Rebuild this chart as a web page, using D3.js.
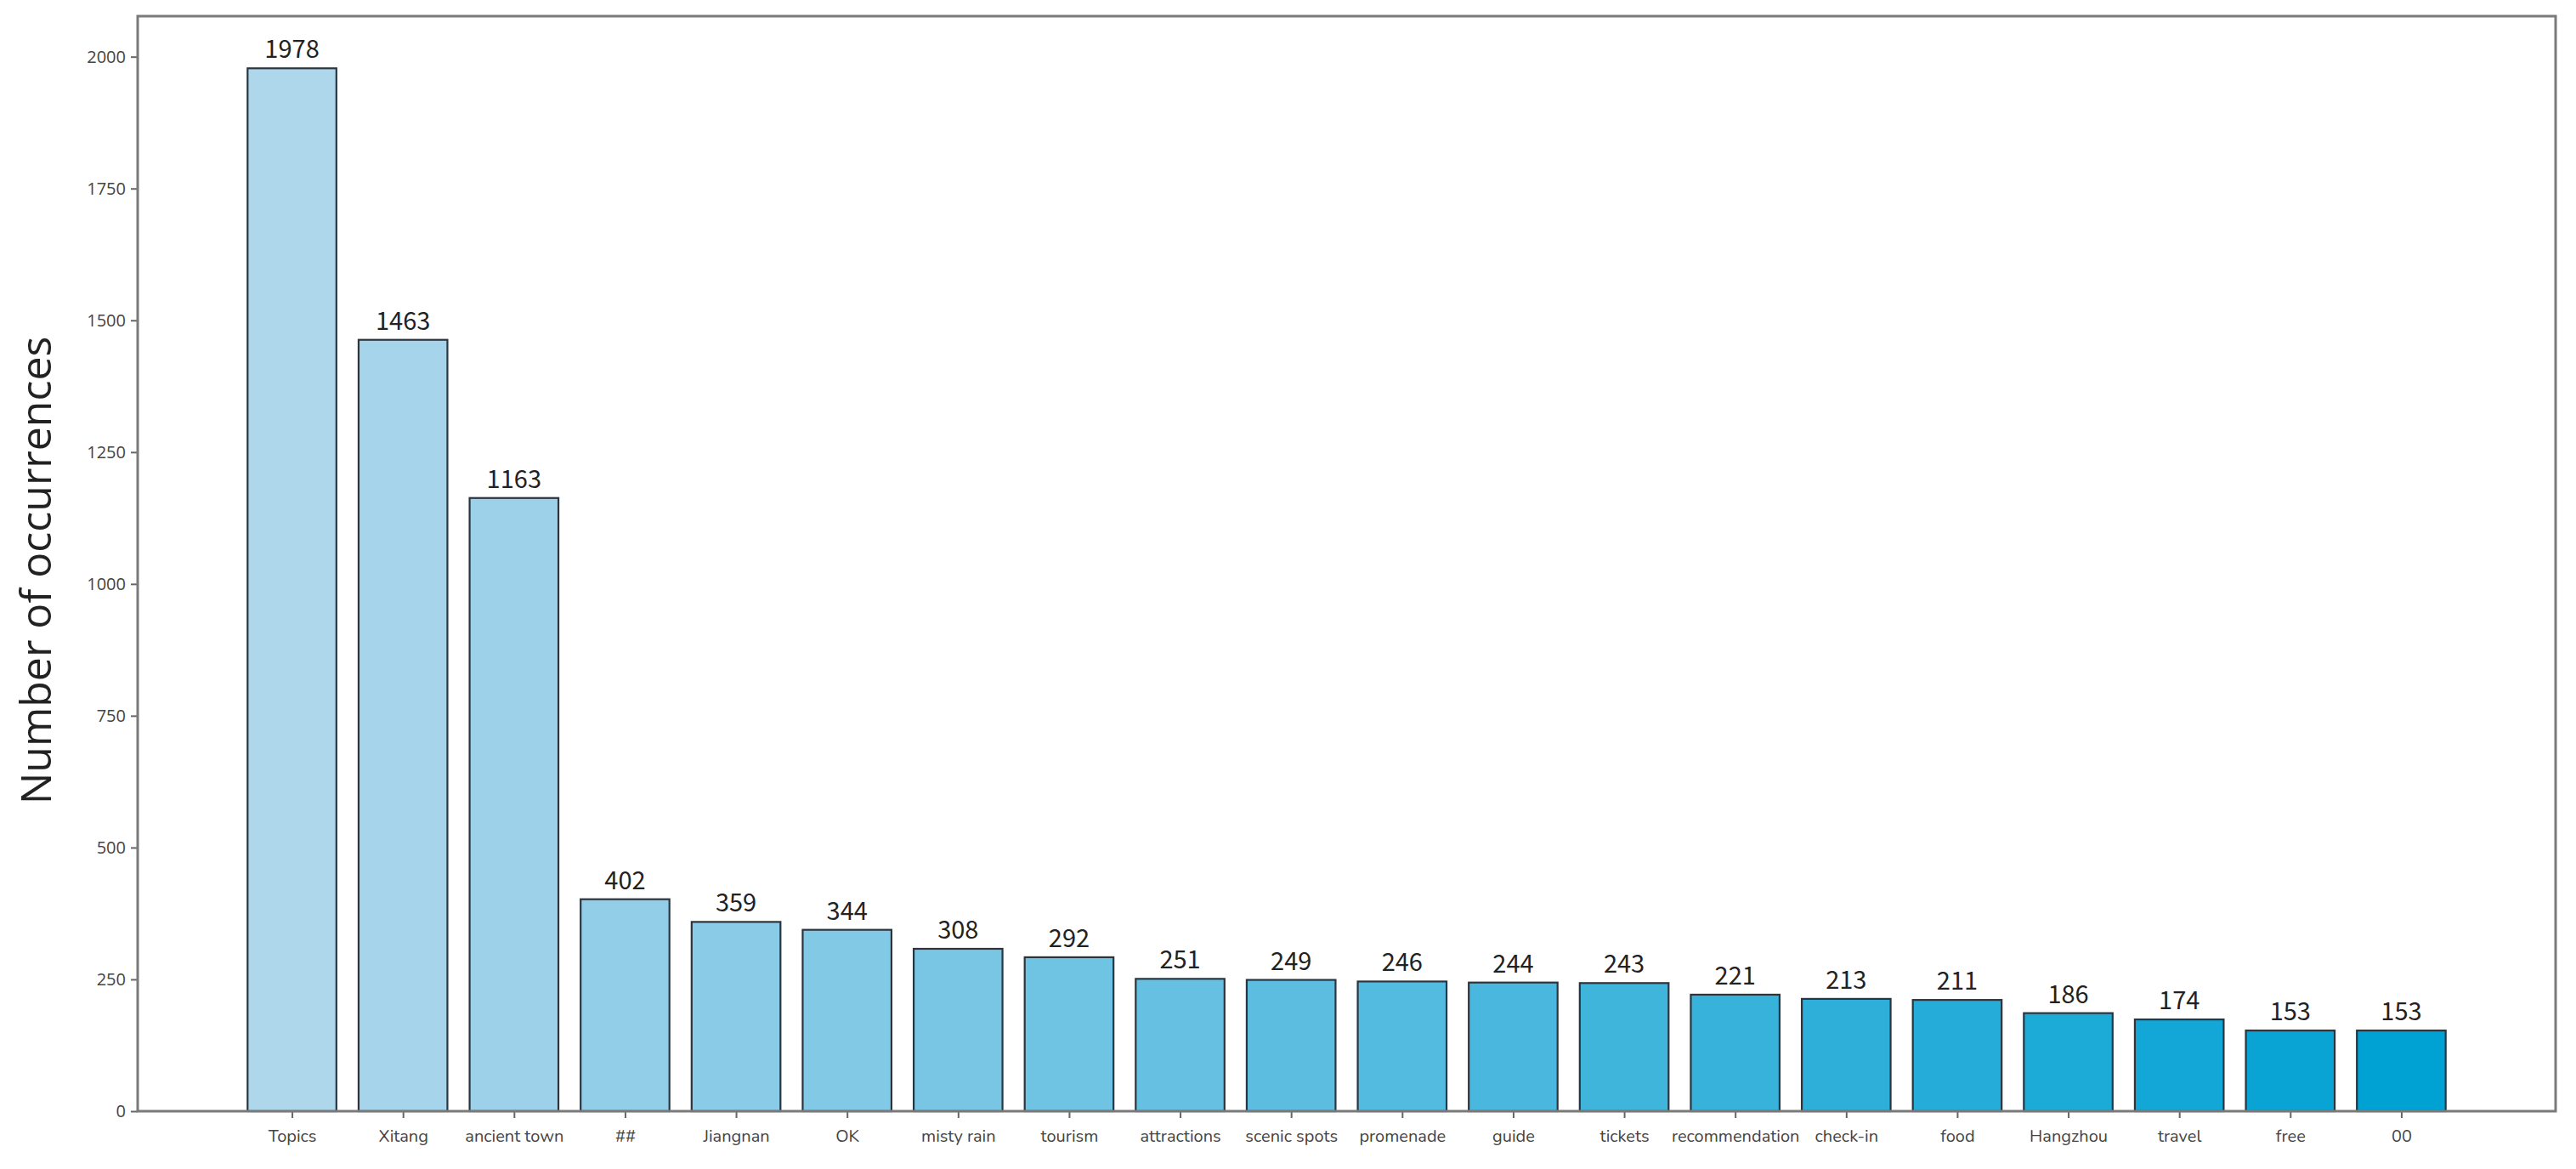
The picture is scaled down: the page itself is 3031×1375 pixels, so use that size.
<!DOCTYPE html>
<html>
<head>
<meta charset="utf-8">
<script src="https://cdn.jsdelivr.net/npm/d3@7"></script>
<style>
  html, body { margin: 0; padding: 0; background: #ffffff; }
  svg { display: block; }
</style>
</head>
<body>
<svg id="chart" width="3031" height="1375"></svg>
<script>
const categories = ["Topics", "Xitang", "ancient town", "##", "Jiangnan", "OK", "misty rain", "tourism",
  "attractions", "scenic spots", "promenade", "guide", "tickets", "recommendation", "check-in", "food",
  "Hangzhou", "travel", "free", "00"];
const counts = [1978, 1463, 1163, 402, 359, 344, 308, 292, 251, 249, 246, 244, 243, 221, 213, 211, 186, 174, 153, 153];
const yTicks = [0, 250, 500, 750, 1000, 1250, 1500, 1750, 2000];
const yLabel = "Number of occurrences";

const W = 3031, H = 1375;
const m = { left: 162, right: 3007, top: 19, bottom: 1307 };
const svg = d3.select("#chart");
svg.append("rect").attr("width", W).attr("height", H).attr("fill", "#ffffff");

const n = categories.length;
const barW = 0.8;
const pad = (n - 1 + barW) * 0.05;
const x = d3.scaleLinear().domain([-barW / 2 - pad, n - 1 + barW / 2 + pad]).range([m.left, m.right]);
const y = d3.scaleLinear().domain([0, d3.max(counts) * 1.05]).range([m.bottom, m.top]);

const color = d3.scaleLinear().domain([0, n - 1]).range(["#afd7ec", "#00a1d3"]).interpolate(d3.interpolateRgb);

// bars
svg.append("g").selectAll("rect").data(counts).join("rect")
  .attr("x", (d, i) => x(i - barW / 2))
  .attr("width", (d, i) => x(i + barW / 2) - x(i - barW / 2))
  .attr("y", d => y(d))
  .attr("height", d => y(0) - y(d))
  .attr("fill", (d, i) => color(i))
  .attr("stroke", "#2b3540")
  .attr("stroke-width", 2.2);

// value labels
svg.append("g").selectAll("text").data(counts).join("text")
  .attr("x", (d, i) => x(i))
  .attr("y", d => y(d) - 12)
  .attr("text-anchor", "middle")
  .attr("font-family", "'Noto Sans CJK SC', 'Noto Sans', sans-serif")
  .attr("font-size", 29)
  .attr("fill", "#222")
  .text(d => d);

// axes
const yAxis = d3.axisLeft(y).tickValues(yTicks).tickFormat(d3.format("d")).tickSize(8).tickPadding(6).tickSizeOuter(0);
const gy = svg.append("g").attr("transform", `translate(${m.left},0)`).call(yAxis);
gy.select(".domain").remove();
gy.selectAll(".tick line").attr("stroke", "#666").attr("stroke-width", 2);
gy.selectAll(".tick text").attr("font-family", "'Open Sans', 'Noto Sans', sans-serif")
  .attr("font-size", 20).attr("fill", "#444");

const xAxis = d3.axisBottom(x).tickValues(d3.range(n)).tickFormat(i => categories[i]).tickSize(8).tickPadding(14).tickSizeOuter(0);
const gx = svg.append("g").attr("transform", `translate(0,${m.bottom})`).call(xAxis);
gx.select(".domain").remove();
gx.selectAll(".tick line").attr("stroke", "#666").attr("stroke-width", 2);
gx.selectAll(".tick text").attr("font-family", "'Nunito', 'Lato', 'Noto Sans', sans-serif")
  .attr("font-size", 20).attr("fill", "#444");

// frame
svg.append("rect")
  .attr("x", m.left).attr("y", m.top)
  .attr("width", m.right - m.left).attr("height", m.bottom - m.top)
  .attr("fill", "none").attr("stroke", "#7a7a7a").attr("stroke-width", 3);

// y label
svg.append("text")
  .attr("transform", `translate(60,${(m.top + m.bottom) / 2 + 8}) rotate(-90)`)
  .attr("text-anchor", "middle")
  .attr("font-family", "'Open Sans', 'Noto Sans', sans-serif")
  .attr("font-size", 50)
  .attr("fill", "#222")
  .text(yLabel);
</script>
</body>
</html>
